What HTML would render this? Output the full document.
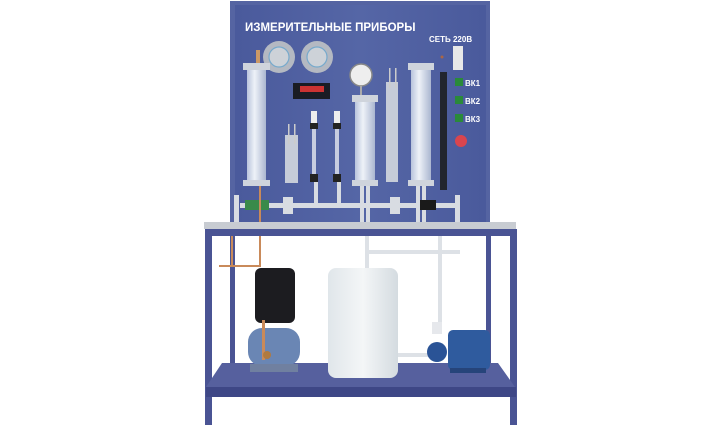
<!DOCTYPE html>
<html><head><meta charset="utf-8"><style>
html,body{margin:0;padding:0;background:#fff;width:720px;height:425px;overflow:hidden}
svg{display:block}
text{font-family:"Liberation Sans","Noto Sans CJK SC",sans-serif;font-weight:bold;fill:#fff}
</style></head><body>
<svg width="720" height="425" viewBox="0 0 720 425" xmlns="http://www.w3.org/2000/svg">
<defs>
<linearGradient id="glass" x1="0" x2="1"><stop offset="0" stop-color="#b8c4dc"/><stop offset=".4" stop-color="#eef2f8"/><stop offset="1" stop-color="#aab6d0"/></linearGradient>
<linearGradient id="pan" x1="0" x2="1"><stop offset="0" stop-color="#4a5a9c"/><stop offset=".5" stop-color="#5566a6"/><stop offset="1" stop-color="#4a5a9c"/></linearGradient>
<linearGradient id="can" x1="0" x2="1"><stop offset="0" stop-color="#e0e6ea"/><stop offset=".5" stop-color="#f4f6f7"/><stop offset="1" stop-color="#d4dbe0"/></linearGradient>
</defs>
<rect x="230" y="1" width="260" height="222" fill="#5564a2"/>
<rect x="235" y="5" width="251" height="218" fill="url(#pan)"/>
<text x="245" y="31" font-size="11.5">ИЗМЕРИТЕЛЬНЫЕ ПРИБОРЫ</text>
<text x="429" y="42" font-size="8">СЕТЬ 220В</text>
<circle cx="279" cy="57" r="16" fill="#b4b9c2"/><circle cx="279" cy="57" r="10" fill="#cdd2d8" stroke="#7ac" stroke-width="1.2"/>
<circle cx="317" cy="57" r="16" fill="#b4b9c2"/><circle cx="317" cy="57" r="10" fill="#cdd2d8" stroke="#7ac" stroke-width="1.2"/>
<rect x="293" y="83" width="37" height="16" fill="#1a1c24"/><rect x="300" y="86" width="24" height="6" fill="#c33"/>
<circle cx="361" cy="75" r="11" fill="#eee" stroke="#888" stroke-width="1.5"/><rect x="360" y="86" width="2" height="9" fill="#aaa"/>
<rect x="256" y="50" width="4" height="14" fill="#c96"/>
<rect x="243" y="63" width="27" height="7" fill="#cfd4dc"/><rect x="247" y="70" width="19" height="110" fill="url(#glass)"/><rect x="243" y="180" width="27" height="6" fill="#cfd4dc"/>
<rect x="352" y="95" width="26" height="7" fill="#cfd4dc"/><rect x="355" y="102" width="20" height="78" fill="url(#glass)"/><rect x="352" y="180" width="26" height="6" fill="#cfd4dc"/>
<rect x="408" y="63" width="26" height="7" fill="#cfd4dc"/><rect x="411" y="70" width="20" height="110" fill="url(#glass)"/><rect x="408" y="180" width="26" height="6" fill="#cfd4dc"/>
<rect x="285" y="135" width="13" height="48" fill="#c6ccd8"/><rect x="288" y="124" width="1.5" height="20" fill="#ccc"/><rect x="294" y="124" width="1.5" height="20" fill="#ccc"/>
<rect x="386" y="82" width="12" height="100" fill="#c6ccd8"/><rect x="389" y="68" width="1.5" height="20" fill="#ccc"/><rect x="395" y="68" width="1.5" height="20" fill="#ccc"/>
<rect x="311" y="111" width="6" height="12" fill="#eee"/><rect x="310" y="123" width="8" height="6" fill="#222"/><rect x="312" y="129" width="4" height="45" fill="#c7cde0"/><rect x="310" y="174" width="8" height="8" fill="#222"/>
<rect x="334" y="111" width="6" height="12" fill="#eee"/><rect x="333" y="123" width="8" height="6" fill="#222"/><rect x="335" y="129" width="4" height="45" fill="#c7cde0"/><rect x="333" y="174" width="8" height="8" fill="#222"/>
<rect x="440" y="72" width="7" height="118" fill="#22252e"/>
<rect x="453" y="46" width="10" height="24" fill="#e8e8e8"/><circle cx="442" cy="57" r="1.5" fill="#a64"/>
<rect x="455" y="78" width="8" height="8" fill="#2a8a3a"/><text x="465" y="86" font-size="8">ВК1</text>
<rect x="455" y="96" width="8" height="8" fill="#2a8a3a"/><text x="465" y="104" font-size="8">ВК2</text>
<rect x="455" y="114" width="8" height="8" fill="#2a8a3a"/><text x="465" y="122" font-size="8">ВК3</text>
<circle cx="461" cy="141" r="6" fill="#d9454e"/>
<g fill="#d8dce2">
<rect x="240" y="203" width="220" height="5"/>
<rect x="314" y="182" width="4" height="26"/><rect x="337" y="182" width="4" height="26"/>
<rect x="360" y="186" width="4" height="36"/><rect x="366" y="186" width="4" height="36"/>
<rect x="416" y="186" width="4" height="36"/><rect x="422" y="186" width="4" height="36"/>
<rect x="283" y="197" width="10" height="17"/><rect x="390" y="197" width="10" height="17"/>
<rect x="234" y="195" width="5" height="27"/><rect x="455" y="195" width="5" height="27"/>
</g>
<rect x="245" y="200" width="24" height="10" fill="#3a8a4a"/>
<rect x="420" y="200" width="16" height="10" fill="#1a1a1a"/>
<rect x="259" y="186" width="2" height="60" fill="#c98a5a"/>
<rect x="204" y="222" width="312" height="7" fill="#c8ccd2"/>
<g fill="#4a5494">
<rect x="205" y="229" width="7" height="196"/><rect x="510" y="229" width="7" height="196"/>
<rect x="230" y="229" width="5" height="145"/><rect x="486" y="229" width="5" height="145"/>
<rect x="205" y="229" width="312" height="7"/>
</g>
<rect x="365" y="236" width="4" height="32" fill="#dde1e6"/><rect x="365" y="250" width="95" height="4" fill="#dde1e6"/>
<rect x="438" y="236" width="4" height="96" fill="#dde1e6"/>
<path d="M219 266 H260 V240 M232 266 V236" stroke="#c98a5a" stroke-width="2" fill="none"/>
<polygon points="222,363 498,363 515,387 206,387" fill="#56609e"/>
<rect x="206" y="387" width="310" height="10" fill="#3e4786"/>
<rect x="255" y="268" width="40" height="55" rx="6" fill="#1c1c20"/>
<rect x="248" y="328" width="52" height="38" rx="14" fill="#6a86b4"/>
<rect x="250" y="364" width="48" height="8" fill="#7080a0"/>
<rect x="262" y="320" width="3" height="40" fill="#c98a5a"/><circle cx="267" cy="355" r="4" fill="#b07a40"/>
<rect x="328" y="268" width="70" height="110" rx="8" fill="url(#can)"/>
<rect x="398" y="353" width="32" height="4" fill="#dde1e6"/>
<rect x="448" y="330" width="42" height="40" rx="5" fill="#2f5b9e"/>
<circle cx="437" cy="352" r="10" fill="#2a5396"/>
<rect x="432" y="322" width="10" height="12" fill="#e6e8ec"/>
<rect x="450" y="368" width="36" height="5" fill="#26447a"/>
</svg>
</body></html>
